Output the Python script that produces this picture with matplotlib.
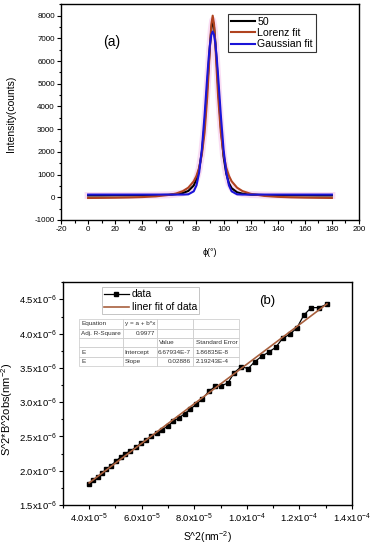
import matplotlib
matplotlib.use('Agg')
import matplotlib.pyplot as plt
from matplotlib.ticker import MultipleLocator, FixedLocator, FuncFormatter

plt.rcParams['font.family'] = ['Liberation Sans', 'DejaVu Sans']
plt.rcParams['mathtext.default'] = 'regular'
plt.rcParams['axes.unicode_minus'] = False

# ---- panel (a): azimuthal intensity profile ----
phi = [0, 10, 20, 30, 40, 50, 60, 65, 70, 74, 78, 80, 82, 84, 86, 88, 89, 90, 91,
       92, 93, 94, 95, 96, 98, 100, 102, 104, 106, 110, 114, 120, 130, 140, 150,
       160, 170, 180]
counts_50 = [80, 80, 85, 85, 90, 95, 110, 140, 190, 280, 520, 800, 1250, 2000,
             3200, 4900, 5800, 6700, 7400, 7800, 7500, 6800, 5900, 4900, 3100,
             1800, 1050, 620, 400, 220, 160, 120, 100, 90, 85, 85, 80, 80]
lorenz_fit = [-31, -26, -19, -8, 10, 41, 106, 168, 273, 424, 704, 943, 1305,
              1885, 2848, 4447, 5524, 6672, 7621, 8000, 7621, 6672, 5524, 4447,
              2848, 1885, 1305, 943, 704, 424, 273, 153, 61, 20, -2, -15, -23, -29]
gauss_fit = [120, 120, 120, 120, 120, 120, 120, 120, 120, 131, 262, 523, 1092,
             2116, 3615, 5334, 6117, 6748, 7158, 7300, 7158, 6748, 6117, 5334,
             3615, 2116, 1092, 523, 262, 131, 120, 120, 120, 120, 120, 120, 120, 120]

# ---- panel (b): Williamson-Hall type plot ----
s2 = [4.00, 4.16, 4.32, 4.48, 4.65, 4.82, 5.02, 5.20, 5.38, 5.57, 5.78, 5.97,
      6.17, 6.36, 6.57, 6.78, 6.99, 7.20, 7.41, 7.63, 7.85, 8.08, 8.31, 8.56,
      8.80, 9.03, 9.28, 9.52, 9.79, 10.05, 10.30, 10.57, 10.83, 11.10, 11.36,
      11.63, 11.90, 12.17, 12.45, 12.75, 13.05]          # x 1e-5
s2b2 = [1.80, 1.86, 1.91, 1.96, 2.02, 2.07, 2.14, 2.20, 2.25, 2.29, 2.34, 2.40,
        2.45, 2.50, 2.55, 2.60, 2.65, 2.72, 2.77, 2.83, 2.90, 2.97, 3.05, 3.16,
        3.23, 3.24, 3.28, 3.43, 3.52, 3.49, 3.59, 3.67, 3.73, 3.80, 3.93, 3.99,
        4.08, 4.27, 4.38, 4.38, 4.43]                    # x 1e-6
fit_intercept = 6.67934e-7
fit_slope = 0.02886
table_rows = [['Equation', 'y = a + b*x', '', ''],
              ['Adj. R-Square', '0.9977', '', ''],
              ['', '', 'Value', 'Standard Error'],
              ['E', 'Intercept', '6.67934E-7', '1.86835E-8'],
              ['E', 'Slope', '0.02886', '2.19243E-4']]
xticks_b = [4e-5, 6e-5, 8e-5, 1e-4, 1.2e-4, 1.4e-4]
yticks_b = [1.5e-6, 2.0e-6, 2.5e-6, 3.0e-6, 3.5e-6, 4.0e-6, 4.5e-6]

fig = plt.figure(figsize=(3.72, 5.5), dpi=100)

# ---------------- (a) ----------------
ax1 = fig.add_axes([0.164, 0.6, 0.801, 0.393])
ax1.plot(phi, counts_50, color='#f6c6ec', lw=5, alpha=0.6, zorder=1)
ax1.plot(phi, counts_50, color='black', lw=1.5, label='50', zorder=2)
ax1.plot(phi, lorenz_fit, color='#b0431f', lw=1.5, label='Lorenz fit', zorder=3)
ax1.plot(phi, gauss_fit, color='#1a14d8', lw=1.5, label='Gaussian fit', zorder=4)
ax1.set_xlim(-20, 200)
ax1.set_ylim(-1000, 8520)
ax1.xaxis.set_major_locator(MultipleLocator(20))
ax1.xaxis.set_minor_locator(MultipleLocator(10))
ax1.yaxis.set_major_locator(MultipleLocator(1000))
ax1.yaxis.set_minor_locator(MultipleLocator(500))
ax1.tick_params(which='both', direction='out', labelsize=5.8, width=0.8, pad=1.5)
ax1.tick_params(which='major', length=3)
ax1.tick_params(which='minor', length=1.8)
ax1.set_xlabel('ϕ(°)', fontsize=6.5)
ax1.xaxis.set_label_coords(0.5, -0.13)
ax1.set_ylabel('Intensity(counts)', fontsize=7.5)
ax1.yaxis.set_label_coords(-0.15, 0.49)
ax1.text(0.171, 0.824, '(a)', transform=ax1.transAxes, fontsize=10,
         ha='center', va='center')
leg1 = ax1.legend(loc='upper left', bbox_to_anchor=(0.56, 0.952), fontsize=7.6,
                  frameon=True, fancybox=False, edgecolor='black',
                  handlelength=2.3, handletextpad=0.25, labelspacing=0.12,
                  borderpad=0.25, borderaxespad=0)
leg1.get_frame().set_linewidth(0.8)
for sp in ax1.spines.values():
    sp.set_linewidth(1.0)

# ---------------- (b) ----------------
ax2 = fig.add_axes([0.169, 0.0818, 0.777, 0.405])
xs = [v * 1e-5 for v in s2]
ys = [v * 1e-6 for v in s2b2]
ax2.plot(xs, ys, '-s', color='black', lw=0.9, markersize=3.3, label='data',
         zorder=2)
fit_x = [xs[0], xs[-1]]
fit_y = [fit_intercept + fit_slope * v for v in fit_x]
ax2.plot(fit_x, fit_y, color='#a8603e', lw=1.2, label='liner fit of data',
         zorder=3)
ax2.set_xlim(3.0e-5, 1.4e-4)
ax2.set_ylim(1.5e-6, 4.75e-6)


def sci_label(v, pos):
    m, e = f'{v:.1e}'.split('e')
    return f'{m}x10$^{{{int(e)}}}$'


ax2.xaxis.set_major_locator(FixedLocator(xticks_b))
ax2.yaxis.set_major_locator(FixedLocator(yticks_b))
ax2.xaxis.set_minor_locator(MultipleLocator(1e-5))
ax2.yaxis.set_minor_locator(MultipleLocator(0.25e-6))
ax2.xaxis.set_major_formatter(FuncFormatter(sci_label))
ax2.yaxis.set_major_formatter(FuncFormatter(sci_label))
ax2.tick_params(which='both', direction='out', labelsize=6.8, width=0.8, pad=1.5)
ax2.tick_params(which='major', length=3)
ax2.tick_params(which='minor', length=1.8)
ax2.set_xlabel('S^2(nm$^{-2}$)', fontsize=7.5, labelpad=3)
ax2.set_ylabel('S^2*B^2obs(nm$^{-2}$)', fontsize=8)
ax2.yaxis.set_label_coords(-0.165, 0.43)
ax2.text(0.706, 0.915, '(b)', transform=ax2.transAxes, fontsize=9.5,
         ha='center', va='center')
leg2 = ax2.legend(loc='upper left', bbox_to_anchor=(0.134, 0.978), fontsize=7.5,
                  frameon=True, fancybox=False, edgecolor='#aaaaaa',
                  handlelength=2.4, handletextpad=0.3, labelspacing=0.3,
                  borderpad=0.2, borderaxespad=0)
leg2.get_frame().set_linewidth(0.6)

col_w = [44, 34, 36, 46]
tbl = ax2.table(cellText=table_rows, colWidths=[w / sum(col_w) for w in col_w],
                bbox=[0.055, 0.623, 0.554, 0.211], cellLoc='left')
tbl.auto_set_font_size(False)
tbl.set_fontsize(4.6)
for (r, c), cell in tbl.get_celld().items():
    cell.set_edgecolor('#c8c8c8')
    cell.set_linewidth(0.5)
    cell.set_facecolor('white')
    cell.PAD = 0.06
    cell.get_text().set_color('#333333')
    if (c == 2 and r >= 3) or (r == 1 and c == 1):
        cell.get_text().set_horizontalalignment('right')
        cell.get_text().set_x(cell.get_x() + cell.get_width() * 0.94)
for sp in ax2.spines.values():
    sp.set_linewidth(1.0)

fig.savefig('out.png', dpi=100)
